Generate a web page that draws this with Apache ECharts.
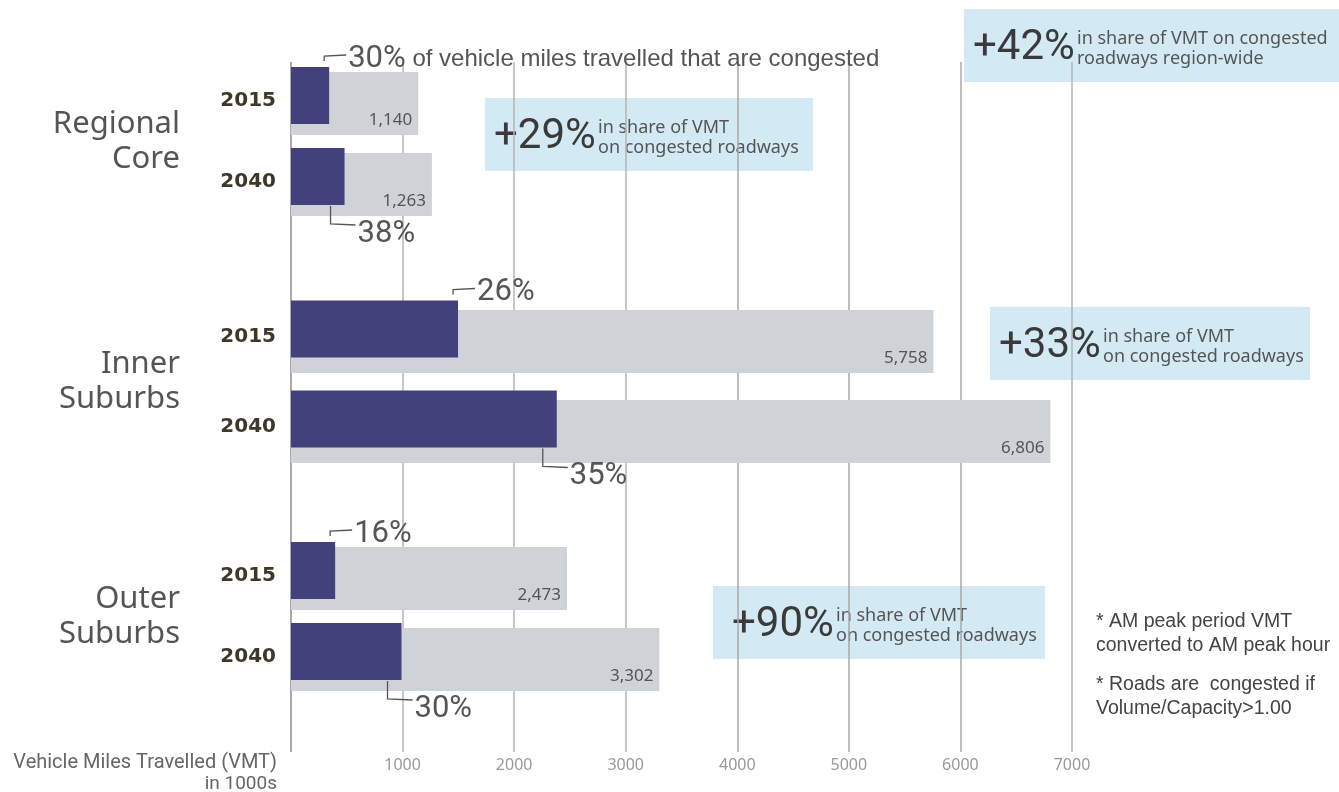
<!DOCTYPE html>
<html>
<head>
<meta charset="utf-8">
<title>VMT congestion</title>
<script src="https://cdn.jsdelivr.net/npm/echarts@6/dist/echarts.min.js"></script>
<style>
    html, body { margin: 0; padding: 0; background: #fff; }
    #main { width: 1339px; height: 792px; }
</style>
</head>
<body>
<div id="main"></div>
<script>
    // ---- data ----
    var groups = ['Regional\nCore', 'Inner\nSuburbs', 'Outer\nSuburbs'];
    var years = ['2015', '2040'];
    var totalVMT = [[1140, 1263], [5758, 6806], [2473, 3302]];
    var congestedPct = [[30, 38], [26, 35], [16, 30]];
    var xMin = 0, xMax = 7000, xStep = 1000;
    var headNote = ' of vehicle miles travelled that are congested';
    var callouts = [
        { big: '+42%', small: 'in share of VMT on congested\nroadways region-wide' },
        { big: '+29%', small: 'in share of VMT\non congested roadways' },
        { big: '+33%', small: 'in share of VMT\non congested roadways' },
        { big: '+90%', small: 'in share of VMT\non congested roadways' }
    ];
    var footnotes = ['* AM peak period VMT\nconverted to AM peak hour', '* Roads are  congested if\nVolume/Capacity>1.00'];
    var axisTitle = 'Vehicle Miles Travelled (VMT)';
    var axisUnit = 'in 1000s';

    // ---- layout (pixels) ----
    var plotLeft = 291, plotWidth = 781;
    var groupTop = [60.5, 291.75, 535.5];
    var groupHeight = [162, 180, 162];
    var groupShift = [5, 9.5, 5];      // gray bar sits this much lower than the purple one
    var purpleW = 57, grayW = 63;
    var calloutBox = [[964, 9, 375, 73, 113], [485, 98, 328, 73, 113], [990, 307, 320, 73, 113], [713, 586, 332, 73, 123]];

    var narrow = "'Liberation Sans Narrow', 'Roboto', sans-serif";
    var sans = "'Noto Sans', 'Open Sans', sans-serif";
    var arial = "'Liberation Sans', Arial, sans-serif";

    var myChart = echarts.init(document.getElementById('main'));

    var grid = [{ left: plotLeft, width: plotWidth, top: 62, height: 690, outerBoundsMode: 'none' }];
    var xAxis = [{
        gridIndex: 0, type: 'value', min: xMin, max: xMax, interval: xStep,
        axisLine: { show: false }, axisTick: { show: false },
        axisLabel: {
            margin: 5, color: '#999', fontSize: 16, fontFamily: sans,
            formatter: function (v) { return v === 0 ? '' : String(v); }
        },
        splitLine: {
            show: true,
            lineStyle: { width: 1.5, color: ['#8c8c8c', '#b4b4b4', '#b4b4b4', '#b4b4b4', '#a8a8a8', '#a8a8a8', '#a8a8a8', '#b4b4b4'] }
        }
    }];
    var yAxis = [{ gridIndex: 0, type: 'value', show: false }];
    var series = [];

    groups.forEach(function (name, g) {
        var gi = g + 1;
        grid.push({ left: plotLeft, width: plotWidth, top: groupTop[g], height: groupHeight[g], outerBoundsMode: 'none' });
        xAxis.push({ gridIndex: gi, type: 'value', min: xMin, max: xMax, show: false });
        yAxis.push({
            gridIndex: gi, type: 'category', data: years, inverse: true,
            axisLine: { show: false }, axisTick: { show: false },
            axisLabel: {
                margin: 15, color: '#3d3929', fontSize: 20, fontWeight: 'bold',
                fontFamily: "'DejaVu Sans', sans-serif", padding: [0, 0, 6, 0]
            },
            name: name, nameLocation: 'middle', nameGap: 111, nameRotate: 0,
            nameTextStyle: {
                align: 'right', verticalAlign: 'middle', color: '#555', fontSize: 31,
                lineHeight: 35, fontFamily: sans, padding: [6, 0, 0, 0]
            }
        });
        var gap = ((groupShift[g] / purpleW - 1) * 100).toFixed(2) + '%';
        var purple = totalVMT[g].map(function (t, i) { return t * congestedPct[g][i] / 100; });
        series.push({
            type: 'bar', name: 'congested', xAxisIndex: gi, yAxisIndex: gi,
            data: purple, barWidth: purpleW, barGap: gap, z: 3,
            itemStyle: { color: '#43417b' }, silent: true
        });
        series.push({
            type: 'bar', name: 'total', xAxisIndex: gi, yAxisIndex: gi,
            data: totalVMT[g], barWidth: grayW, barGap: gap, z: 2,
            itemStyle: { color: '#cfd2d7' }, silent: true,
            label: {
                show: true, position: 'insideBottomRight', distance: 6,
                color: '#555', fontSize: 17, fontFamily: sans,
                formatter: function (p) { return p.value.toLocaleString('en-US'); }
            }
        });
        series.push({
            type: 'custom', xAxisIndex: gi, yAxisIndex: gi, z: 4, silent: true, clip: false,
            data: purple.map(function (v, i) { return [v, i, congestedPct[g][i]]; }),
            renderItem: function (params, api) {
                var idx = api.value(1);
                var c = api.coord([api.value(0), idx]);
                var top = c[1] - (groupShift[g] + grayW) / 2;
                var bottom = top + purpleW;
                var pts, tx, ty, x0;
                if (idx === 0) {
                    x0 = c[0] - 5;
                    pts = [[x0, top - 6], [x0, top - 11], [x0 + 22, top - 12]];
                    tx = x0 + 24; ty = top - 8;
                } else {
                    x0 = c[0] - 14;
                    pts = [[x0, bottom + 1], [x0, bottom + 19], [x0 + 25, bottom + 20]];
                    tx = x0 + 27; ty = bottom + 29;
                }
                var txt = '{a|' + api.value(2) + '%}';
                if (g === 0 && idx === 0) txt += '{b|' + headNote + '}';
                return {
                    type: 'group',
                    children: [{
                        type: 'polyline', shape: { points: pts },
                        style: { stroke: '#555', lineWidth: 1.3, fill: null }
                    }, {
                        type: 'text',
                        style: {
                            x: tx, y: ty, text: txt, align: 'left', verticalAlign: 'middle',
                            rich: {
                                a: { fontSize: 31, fontFamily: narrow, fill: '#555', color: '#555' },
                                b: { fontSize: 24, fontFamily: arial, fill: '#555', color: '#555' }
                            }
                        }
                    }]
                };
            }
        });
    });

    // callout boxes and notes
    var graphic = [];
    callouts.forEach(function (c, i) {
        var b = calloutBox[i];
        graphic.push({
            type: 'group', x: b[0], y: b[1], z: 10,
            children: [
                { type: 'rect', shape: { x: 0, y: 0, width: b[2], height: b[3] }, style: { fill: '#d3eaf4' } },
                { type: 'text', style: { x: b[4] - 104, y: b[3] / 2 + 3, text: c.big, verticalAlign: 'middle', font: '42px ' + narrow, fill: '#3a3a3a' } },
                { type: 'text', style: { x: b[4], y: b[3] / 2 + 3, text: c.small, verticalAlign: 'middle', font: '18px ' + sans, lineHeight: 20, fill: '#555' } }
            ]
        });
    });
    graphic.push({ type: 'text', x: 1096, y: 610, style: { text: footnotes[0], font: '19.5px ' + arial, lineHeight: 24, fill: '#444' } });
    graphic.push({ type: 'text', x: 1096, y: 673, style: { text: footnotes[1], font: '19.5px ' + arial, lineHeight: 24, fill: '#444' } });
    graphic.push({ type: 'text', x: 277, y: 763, style: { text: axisTitle, align: 'right', verticalAlign: 'middle', font: '20px ' + narrow, fill: '#666' } });
    graphic.push({ type: 'text', x: 277, y: 784, style: { text: axisUnit, align: 'right', verticalAlign: 'middle', font: '19px ' + narrow, fill: '#666' } });

    myChart.setOption({
        animation: false,
        backgroundColor: '#fff',
        textStyle: { fontFamily: sans },
        grid: grid,
        xAxis: xAxis,
        yAxis: yAxis,
        series: series,
        graphic: graphic
    });
</script>
</body>
</html>
